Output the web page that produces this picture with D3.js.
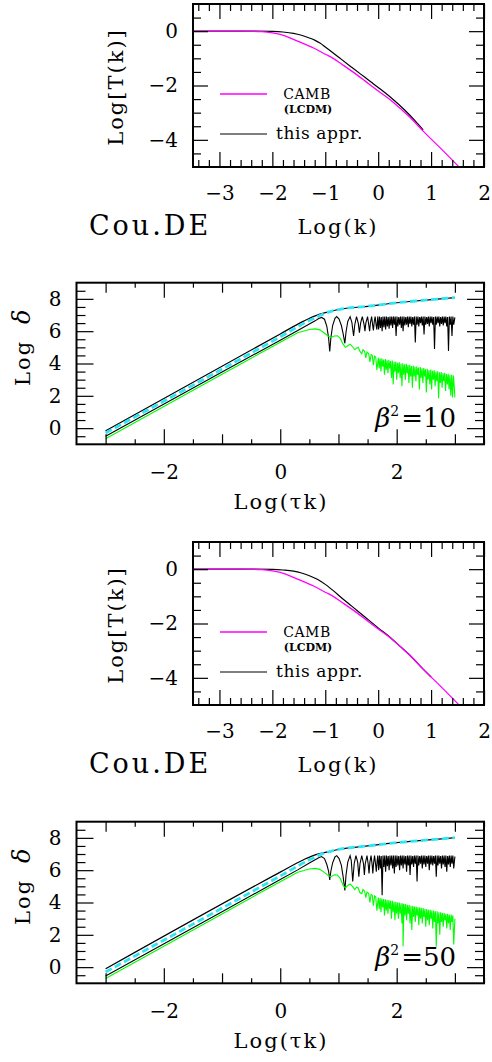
<!DOCTYPE html>
<html>
<head>
<meta charset="utf-8">
<script src="https://cdn.jsdelivr.net/npm/d3@7"></script>
<style>
  body { margin: 0; background: #fff; }
  text { font-family: "DejaVu Serif", serif; fill: #000; }
</style>
</head>
<body>
<div id="chart"></div>
<script>
// tick labels
const kLabels = [-3, -2, -1, 0, 1, 2]
const tLabels = [0, -2, -4]
const tauLabels = [-2, 0, 2]
const deltaLabels = [0, 2, 4, 6, 8]
const betaLabels = ["10", "50"]

// transfer function panels: [Log k, Log T]
const cambT = [[-3.5,0],[-2.6,0],[-2.2,-0.02],[-2.0,-0.06],[-1.85,-0.12],[-1.6,-0.3],[-1.4,-0.47],[-1.22,-0.62],[-1.0,-0.85],
  [-0.85,-1.0],[-0.7,-1.2],[-0.5,-1.47],[-0.25,-1.83],[0,-2.2],[0.25,-2.56],[0.42,-2.85],[0.6,-3.17],[0.85,-3.68],[1.2,-4.35],[1.53,-5.0]]
const apprT1 = [[-3.5,0],[-2.5,0],[-2.0,-0.01],[-1.8,-0.03],[-1.6,-0.08],[-1.45,-0.15],[-1.3,-0.25],[-1.2,-0.33],[-1.1,-0.44],
  [-1.0,-0.58],[-0.85,-0.8],[-0.7,-1.03],[-0.5,-1.33],[-0.25,-1.7],[0,-2.07],[0.25,-2.46],[0.5,-2.9],[0.7,-3.3],[0.85,-3.63]]
const apprT2 = [[-3.5,0],[-2.5,0],[-2.0,-0.01],[-1.8,-0.03],[-1.6,-0.07],[-1.45,-0.14],[-1.3,-0.24],[-1.15,-0.37],[-1.0,-0.56],
  [-0.85,-0.79],[-0.7,-1.04],[-0.5,-1.36],[-0.25,-1.76],[0,-2.16],[0.25,-2.55],[0.42,-2.85],[0.6,-3.17],[0.85,-3.68],[1.0,-3.97]]

// density panels: [Log tau k, Log delta]
const upper10 = [[-3.0,-0.17],[0,5.83],[0.4,6.62],[0.6,6.95],[0.8,7.17],[1.0,7.34],[1.5,7.54],[2.0,7.76],[2.5,7.92],[3.0,8.08]]
const dashed10 = [[-3.0,-0.3],[0,5.65],[0.5,6.66],[0.7,7.0],[0.9,7.26],[1.0,7.34],[1.5,7.54],[2.0,7.76],[2.5,7.92],[3.0,8.08]]
const osc10 = [[-3.0,-0.5],[-1.0,3.47],[0.0,5.44],[0.3,6.04],[0.5,6.44],[0.6,6.64],[0.66,6.78],[0.71,6.85],[0.76,6.74],[0.80,6.3],
  [0.83,5.6],[0.85,4.75],[0.87,5.6],[0.90,6.35],[0.94,6.8],[0.97,6.9],[1.01,6.75],[1.05,6.35],[1.08,5.85],[1.11,5.25],[1.13,5.95],
  [1.16,6.6],[1.20,6.9],[1.23,6.55],[1.26,5.7],[1.28,6.4],[1.31,6.9],[1.34,6.5],[1.36,5.9],[1.38,6.5],[1.41,6.9],[1.44,6.4],
  [1.455,6.0],[1.47,6.5],[1.50,6.9],[1.52,6.4],[1.535,6.0],[1.55,6.55],[1.57,6.9],[1.59,6.3],[1.60,6.05],[1.615,6.6],[1.63,6.9],
  [1.65,6.3],[1.66,6.1],[1.675,6.9],[1.69,6.1],[1.705,6.9],[1.72,6.2],[1.735,6.88],[1.75,6.0],[1.765,6.9],[1.78,6.25],[1.795,6.9],
  [1.81,6.1],[1.825,6.9],[1.84,6.3],[1.855,6.88],[1.87,6.15],[1.885,6.9],[1.90,6.35],[1.915,6.9],[1.93,6.2],[1.945,6.9],[1.96,6.4],
  [1.975,6.9],[1.99,5.7],[2.005,6.9],[2.02,6.3],[2.035,6.88],[2.05,6.4],[2.065,6.9],[2.08,6.2],[2.095,6.9],[2.11,6.0],[2.125,6.9],
  [2.14,6.35],[2.155,6.88],[2.17,6.4],[2.185,6.9],[2.20,6.25],[2.215,6.9],[2.23,6.45],[2.245,6.9],[2.26,6.3],[2.275,6.88],[2.29,6.4],
  [2.305,6.9],[2.32,5.3],[2.335,6.9],[2.35,6.4],[2.365,6.9],[2.38,6.3],[2.395,6.88],[2.41,6.5],[2.425,6.9],[2.44,6.35],[2.455,6.9],
  [2.47,5.8],[2.485,6.9],[2.50,6.4],[2.515,6.88],[2.53,6.45],[2.545,6.9],[2.56,6.3],[2.575,6.9],[2.59,6.5],[2.605,6.9],[2.62,6.4],
  [2.635,6.88],[2.65,4.9],[2.665,6.9],[2.68,6.4],[2.695,6.9],[2.71,6.5],[2.725,6.9],[2.74,6.3],[2.755,6.88],[2.77,6.45],[2.785,6.9],
  [2.80,6.35],[2.815,6.9],[2.83,6.5],[2.845,6.9],[2.86,6.3],[2.875,6.88],[2.89,4.78],[2.905,6.9],[2.92,6.4],[2.935,6.9],[2.95,5.7],
  [2.965,6.9],[2.98,6.4],[3.0,6.85]]
const green10 = [[-3.0,-0.66],[-1.0,3.33],[0.0,5.32],[0.3,5.9],[0.5,6.1],[0.6,6.14],[0.68,6.08],[0.75,5.9],[0.82,5.7],[0.87,5.62],
  [0.93,5.7],[0.98,5.72],[1.03,5.55],[1.08,5.2],[1.12,5.0],[1.16,5.1],[1.2,5.2],[1.24,5.05],[1.28,4.85],[1.31,4.95],[1.34,5.0],
  [1.37,4.75],[1.4,4.6],[1.42,4.85],[1.45,4.75],[1.47,4.35],[1.49,4.7],[1.52,4.6],[1.54,4.1],[1.56,4.55],[1.58,4.5],[1.60,3.9],
  [1.62,4.45],[1.64,4.4],[1.66,3.6],[1.685,4.35],[1.70,3.7],[1.715,4.3],[1.73,3.5],[1.745,4.32],[1.76,3.8],[1.775,4.25],[1.79,3.3],
  [1.805,4.28],[1.82,3.6],[1.835,4.2],[1.85,3.4],[1.865,4.22],[1.88,3.7],[1.895,4.15],[1.91,3.1],[1.925,4.18],[1.94,2.7],[1.955,4.1],
  [1.97,3.5],[1.985,4.12],[2.00,3.0],[2.015,4.05],[2.03,3.4],[2.045,4.08],[2.06,3.1],[2.075,4.0],[2.09,2.6],[2.105,4.02],[2.12,3.3],
  [2.135,3.95],[2.15,3.0],[2.165,3.98],[2.18,3.4],[2.195,3.9],[2.21,2.8],[2.225,3.92],[2.24,3.2],[2.255,3.85],[2.27,2.5],[2.285,3.88],
  [2.30,3.2],[2.315,3.8],[2.33,2.9],[2.345,3.82],[2.36,3.3],[2.375,3.75],[2.39,2.4],[2.405,3.78],[2.42,3.1],[2.435,3.7],[2.45,2.8],
  [2.465,3.72],[2.48,3.2],[2.495,3.65],[2.51,2.2],[2.525,3.68],[2.54,3.0],[2.555,3.6],[2.57,2.7],[2.585,3.62],[2.60,2.4],[2.615,3.55],
  [2.63,3.0],[2.645,3.58],[2.66,2.6],[2.675,3.5],[2.69,2.9],[2.705,3.52],[2.72,1.85],[2.735,3.45],[2.75,2.8],[2.765,3.47],[2.78,2.5],
  [2.795,3.4],[2.81,2.9],[2.825,3.42],[2.84,2.3],[2.855,3.35],[2.87,2.7],[2.885,3.37],[2.90,2.4],[2.915,3.3],[2.93,2.0],[2.945,3.3],
  [2.96,1.9],[2.975,3.25],[2.99,2.5],[3.0,1.9]]

const upper50 = [[-3.0,-0.1],[0,5.88],[0.4,6.65],[0.6,6.95],[0.8,7.12],[1.0,7.28],[1.5,7.5],[2.0,7.7],[2.5,7.86],[3.0,8.01]]
const dashed50 = [[-3.0,-0.3],[0,5.64],[0.5,6.64],[0.7,6.98],[0.9,7.2],[1.0,7.28],[1.5,7.5],[2.0,7.7],[2.5,7.86],[3.0,8.01]]
const osc50 = [[-3.0,-0.55],[-1.0,3.43],[0.0,5.42],[0.3,6.02],[0.5,6.45],[0.6,6.65],[0.66,6.77],[0.71,6.84],[0.76,6.72],[0.80,6.35],
  [0.83,5.95],[0.85,5.4],[0.87,5.95],[0.90,6.45],[0.94,6.82],[0.97,6.9],[1.01,6.72],[1.05,6.3],[1.08,5.6],[1.11,4.75],[1.13,5.7],
  [1.16,6.5],[1.20,6.9],[1.22,6.6],[1.245,5.3],[1.27,6.4],[1.30,6.9],[1.33,6.5],[1.35,5.6],[1.37,6.4],[1.40,6.9],[1.43,6.4],
  [1.445,5.7],[1.46,6.4],[1.49,6.9],[1.51,6.4],[1.525,5.8],[1.54,6.5],[1.56,6.9],[1.58,6.3],[1.59,5.8],[1.605,6.5],[1.62,6.9],
  [1.64,6.3],[1.65,5.9],[1.665,6.6],[1.675,6.9],[1.69,6.0],[1.705,6.9],[1.72,6.1],[1.735,6.88],[1.75,4.45],[1.765,6.9],[1.78,6.2],
  [1.795,6.9],[1.81,5.9],[1.825,6.9],[1.84,6.25],[1.855,6.88],[1.87,6.0],[1.885,6.9],[1.90,6.3],[1.915,6.9],[1.93,6.1],[1.945,6.9],
  [1.96,5.8],[1.975,6.9],[1.99,6.2],[2.005,6.9],[2.02,6.3],[2.035,6.88],[2.05,6.0],[2.065,6.9],[2.08,6.3],[2.095,6.9],[2.11,6.1],
  [2.125,6.9],[2.14,6.35],[2.155,6.88],[2.17,5.9],[2.185,6.9],[2.20,6.3],[2.215,6.9],[2.23,5.7],[2.245,6.9],[2.26,6.35],[2.275,6.88],
  [2.29,6.2],[2.305,6.9],[2.32,6.4],[2.335,6.9],[2.35,5.3],[2.365,6.9],[2.38,6.3],[2.395,6.88],[2.41,6.4],[2.425,6.9],[2.44,6.1],
  [2.455,6.9],[2.47,6.35],[2.485,6.9],[2.50,6.2],[2.515,6.88],[2.53,6.4],[2.545,6.9],[2.56,6.0],[2.575,6.9],[2.59,6.35],[2.605,6.9],
  [2.62,6.3],[2.635,6.88],[2.65,6.4],[2.665,6.9],[2.68,5.6],[2.695,6.9],[2.71,6.3],[2.725,6.9],[2.74,6.4],[2.755,6.88],[2.77,6.1],
  [2.785,6.9],[2.80,6.35],[2.815,6.9],[2.83,6.2],[2.845,6.9],[2.86,5.9],[2.875,6.88],[2.89,6.35],[2.905,6.9],[2.92,6.2],[2.935,6.9],
  [2.95,6.4],[2.965,6.9],[2.98,6.1],[3.0,6.85]]
const green50 = [[-3.0,-0.7],[-1.0,3.29],[0.0,5.29],[0.3,5.87],[0.5,6.07],[0.6,6.11],[0.68,6.05],[0.75,5.88],[0.82,5.68],[0.87,5.6],
  [0.93,5.72],[0.98,5.7],[1.03,5.5],[1.08,5.05],[1.12,4.9],[1.16,5.05],[1.2,5.15],[1.24,5.0],[1.28,4.8],[1.31,4.95],[1.34,4.9],
  [1.37,4.6],[1.4,4.55],[1.42,4.8],[1.45,4.7],[1.47,4.3],[1.49,4.65],[1.52,4.55],[1.54,4.0],[1.56,4.5],[1.58,4.45],[1.60,3.8],
  [1.62,4.4],[1.64,4.35],[1.66,3.5],[1.685,4.3],[1.70,3.6],[1.715,4.28],[1.73,3.4],[1.745,4.25],[1.76,3.7],[1.775,4.22],[1.79,3.2],
  [1.805,4.2],[1.82,3.5],[1.835,4.15],[1.85,3.3],[1.865,4.15],[1.88,3.6],[1.895,4.1],[1.91,3.0],[1.925,4.1],[1.94,3.4],[1.955,4.05],
  [1.97,2.9],[1.985,4.05],[2.00,3.3],[2.015,4.0],[2.03,3.0],[2.045,4.0],[2.06,3.3],[2.075,3.95],[2.09,2.7],[2.105,3.95],[2.11,1.3],
  [2.125,3.9],[2.14,3.2],[2.155,3.9],[2.17,2.9],[2.185,3.85],[2.20,3.3],[2.215,3.85],[2.23,2.7],[2.245,3.8],[2.26,2.3],[2.275,3.8],
  [2.29,3.1],[2.305,3.75],[2.32,2.8],[2.335,3.75],[2.35,3.2],[2.365,3.7],[2.38,2.6],[2.395,3.7],[2.41,3.0],[2.425,3.65],[2.44,2.7],
  [2.455,3.65],[2.47,3.1],[2.485,3.6],[2.50,2.5],[2.515,3.6],[2.53,2.9],[2.545,3.55],[2.56,2.6],[2.575,3.55],[2.59,3.0],[2.605,3.5],
  [2.62,2.4],[2.635,3.5],[2.65,2.8],[2.665,3.45],[2.68,1.27],[2.695,3.45],[2.71,2.7],[2.725,3.4],[2.74,2.0],[2.755,3.4],[2.77,2.8],
  [2.785,3.35],[2.80,2.5],[2.815,3.35],[2.83,2.9],[2.845,3.3],[2.86,2.4],[2.875,3.3],[2.89,2.7],[2.905,3.25],[2.92,2.3],[2.935,3.25],
  [2.95,2.8],[2.965,3.2],[2.98,1.4],[3.0,3.0]]

const width = 492
const height = 1062
const fmt = d3.format("d")

let svg = d3.select("#chart").append("svg")
    .attr("width", width)
    .attr("height", height)

let clipId = 0

function frameAxes(g, x, y, xs, ys) {
  let [x0, x1] = x.range()
  let [y1, y0] = y.range()
  // xs / ys : list of {values, len, labels}
  xs.forEach(t => {
    let b = g.append("g").attr("transform", `translate(0,${y1})`)
        .call(d3.axisBottom(x).tickValues(t.values).tickSize(-t.len).tickPadding(t.pad || 20)
          .tickFormat(t.labels ? fmt : ""))
    g.append("g").attr("transform", `translate(0,${y0})`)
        .call(d3.axisTop(x).tickValues(t.values).tickSize(-t.len).tickFormat(""))
    b.selectAll("text").style("font-size", "20px").style("font-family", "DejaVu Serif")
  })
  ys.forEach(t => {
    let l = g.append("g").attr("transform", `translate(${x0},0)`)
        .call(d3.axisLeft(y).tickValues(t.values).tickSize(-t.len).tickPadding(15)
          .tickFormat(t.labels ? fmt : ""))
    g.append("g").attr("transform", `translate(${x1},0)`)
        .call(d3.axisRight(y).tickValues(t.values).tickSize(-t.len).tickFormat(""))
    l.selectAll("text").style("font-size", "20px").style("font-family", "DejaVu Serif")
  })
  g.selectAll(".domain").remove()
  g.selectAll(".tick line").attr("stroke", "#000").attr("stroke-width", 1.2)
  g.append("rect")
      .attr("x", x0).attr("y", y0)
      .attr("width", x1 - x0).attr("height", y1 - y0)
      .attr("fill", "none").attr("stroke", "#000").attr("stroke-width", 2)
}

function clipFor(g, x, y) {
  let id = "clip" + (clipId++)
  g.append("clipPath").attr("id", id).append("rect")
      .attr("x", x.range()[0]).attr("y", y.range()[1])
      .attr("width", x.range()[1] - x.range()[0])
      .attr("height", y.range()[0] - y.range()[1])
  return `url(#${id})`
}

function drawT(top, appr) {
  let x = d3.scaleLinear().domain([-3.5, 2]).range([193, 484])
  let y = d3.scaleLinear().domain([-5, 1]).range([top + 163, top])
  let g = svg.append("g")
  let line = d3.line().x(d => x(d[0])).y(d => y(d[1])).curve(d3.curveMonotoneX)
  let clip = clipFor(g, x, y)
  let lines = g.append("g").attr("clip-path", clip)
  lines.append("path").datum(appr).attr("d", line)
      .attr("fill", "none").attr("stroke", "#000").attr("stroke-width", 1.2)
  lines.append("path").datum(cambT).attr("d", line)
      .attr("fill", "none").attr("stroke", "#ff00ff").attr("stroke-width", 1.3)

  frameAxes(g, x,  y,
    [{values: d3.range(-3.4, 2, 0.2).filter(v => Math.abs(v - Math.round(v)) > 0.01), len: 7},
     {values: kLabels, len: 15, labels: true, pad: 19}],
    [{values: d3.range(-4.5, 1, 0.5).filter(v => !tLabels.includes(v)), len: 8},
     {values: tLabels, len: 15, labels: true}])

  // legend
  g.append("line").attr("x1", 220).attr("x2", 267).attr("y1", top + 90).attr("y2", top + 90)
      .attr("stroke", "#ff00ff").attr("stroke-width", 1.3)
  g.append("text").attr("x", 307).attr("y", top + 95).attr("text-anchor", "middle")
      .style("font-size", "14px").style("letter-spacing", "0.5px").text("CAMB")
  g.append("text").attr("x", 308).attr("y", top + 109).attr("text-anchor", "middle")
      .style("font-size", "11px").style("font-weight", "bold").text("(LCDM)")
  g.append("line").attr("x1", 220).attr("x2", 267).attr("y1", top + 130).attr("y2", top + 130)
      .attr("stroke", "#000").attr("stroke-width", 1.2)
  g.append("text").attr("x", 276).attr("y", top + 135)
      .style("font-size", "17px").style("letter-spacing", "0.6px").text("this appr.")

  // titles
  g.append("text").attr("transform", `translate(123,${top + 83}) rotate(-90)`)
      .attr("text-anchor", "middle").style("font-size", "21px").style("letter-spacing", "2px")
      .text("Log[T(k)]")
  g.append("text").attr("x", 338).attr("y", top + 230).attr("text-anchor", "middle")
      .style("font-size", "21px").style("letter-spacing", "2px").text("Log(k)")
  g.append("text").attr("x", 150).attr("y", top + 231).attr("text-anchor", "middle")
      .style("font-size", "27px").style("letter-spacing", "3px").text("Cou.DE")
}

function drawDelta(top, upper, dashed, osc, green, beta) {
  let x = d3.scaleLinear().domain([-3.5, 3.5]).range([76.5, 484])
  let y = d3.scaleLinear().domain([-1, 9]).range([top + 161.6, top])
  let g = svg.append("g")
  let line = d3.line().x(d => x(d[0])).y(d => y(d[1]))
  let clip = clipFor(g, x, y)
  let lines = g.append("g").attr("clip-path", clip)
  lines.append("path").datum(upper).attr("d", line.curve(d3.curveMonotoneX))
      .attr("fill", "none").attr("stroke", "#000").attr("stroke-width", 1.2)
  line.curve(d3.curveLinear)
  lines.append("path").datum(osc).attr("d", line)
      .attr("fill", "none").attr("stroke", "#000").attr("stroke-width", 1.1)
  lines.append("path").datum(green).attr("d", line)
      .attr("fill", "none").attr("stroke", "#00ff00").attr("stroke-width", 1.1)
  lines.append("path").datum(dashed).attr("d", line.curve(d3.curveMonotoneX))
      .attr("fill", "none").attr("stroke", "#2fe4f4").attr("stroke-width", 2.8)
      .attr("stroke-dasharray", "7,3.5")

  frameAxes(g, x, y,
    [{values: d3.range(-3, 3.6, 0.5).filter(v => !Number.isInteger(v)), len: 5},
     {values: [-3, -1, 1, 3], len: 10},
     {values: tauLabels, len: 15, labels: true, pad: 21}],
    [{values: d3.range(-0.5, 9, 0.5).filter(v => !deltaLabels.includes(v)), len: 9},
     {values: deltaLabels, len: 17, labels: true}])

  g.append("text").attr("transform", `translate(30,${top + 64}) rotate(-90)`)
      .attr("text-anchor", "middle").style("font-size", "21px").style("letter-spacing", "2px")
      .text("Log")
      .append("tspan").attr("dx", 16).style("font-style", "italic").style("font-size", "24px").text("δ")
  g.append("text").attr("x", 281).attr("y", top + 226).attr("text-anchor", "middle")
      .style("font-size", "21px").style("letter-spacing", "2px").text("Log(τk)")

  let b = g.append("text").attr("x", 456).attr("y", top + 144).attr("text-anchor", "end")
      .style("font-size", "26px")
  b.append("tspan").style("font-style", "italic").text("β")
  b.append("tspan").attr("dy", -11).style("font-size", "14px").text("2")
  b.append("tspan").attr("dy", 11).attr("dx", 2).text("=" + beta)
}

drawT(4, apprT1)
drawDelta(282.7, upper10, dashed10, osc10, green10, betaLabels[0])
drawT(542, apprT2)
drawDelta(821.7, upper50, dashed50, osc50, green50, betaLabels[1])
</script>
</body>
</html>
